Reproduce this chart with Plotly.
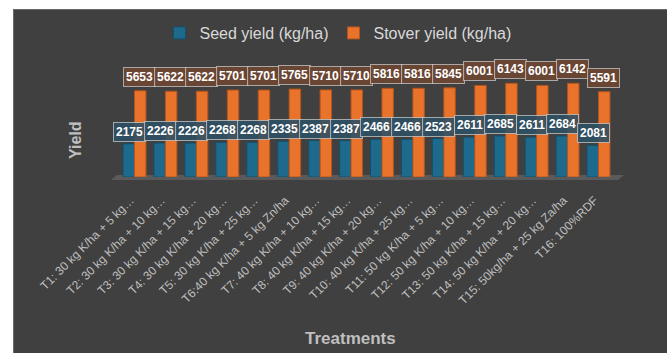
import plotly.graph_objects as go

categories = [
    "T1: 30 kg K/ha + 5 kg…", "T2: 30 kg K/ha + 10 kg…", "T3: 30 kg K/ha + 15 kg…",
    "T4: 30 kg K/ha + 20 kg…", "T5: 30 kg K/ha + 25 kg…", "T6:40 kg K/ha + 5 kg Zn/ha",
    "T7: 40 kg K/ha + 10 kg…", "T8: 40 kg K/ha + 15 kg…", "T9: 40 kg K/ha + 20 kg…",
    "T10: 40 kg K/ha + 25 kg…", "T11: 50 kg K/ha + 5 kg…", "T12: 50 kg K/ha + 10 kg…",
    "T13: 50 kg K/ha + 15 kg…", "T14: 50 kg K/ha + 20 kg…", "T15: 50kg/ha + 25 kg Za/ha",
    "T16: 100%RDF",
]
seed_yield = [2175, 2226, 2226, 2268, 2268, 2335, 2387, 2387, 2466, 2466, 2523, 2611, 2685, 2611, 2684, 2081]
stover_yield = [5653, 5622, 5622, 5701, 5701, 5765, 5710, 5710, 5816, 5816, 5845, 6001, 6143, 6001, 6142, 5591]

BLUE = "#1d6a8c"
ORANGE = "#e9732b"
BG = "#404040"
TXT = "#bfbfbf"

L, R, T, B = 113, 47, 55, 176
W, H = 667, 353
pw = W - L - R
ph = H - T - B

def px_x(p):
    return (p - L) / pw

def px_y(p):
    return (H - B - p) / ph

LABEL_FONT = dict(family="Liberation Sans Narrow, Arial Narrow, Liberation Sans", size=12,
                  color="white", weight="bold")

fig = go.Figure()
fig.add_trace(go.Bar(name="Seed yield (kg/ha)", x=categories, y=seed_yield,
                     marker=dict(color=BLUE, line=dict(color="#15506a", width=1))))
fig.add_trace(go.Bar(name="Stover yield (kg/ha)", x=categories, y=stover_yield,
                     marker=dict(color=ORANGE, line=dict(color="#b5541c", width=1))))

annotations = []
for c, v in zip(categories, seed_yield):
    annotations.append(dict(x=c, y=v, xref="x", yref="y", text=str(v), showarrow=False,
                            xshift=-5, yshift=12, font=LABEL_FONT,
                            bgcolor="rgba(45,80,100,0.9)", bordercolor="rgba(210,210,210,0.7)",
                            borderwidth=1, borderpad=2))
for c, v in zip(categories, stover_yield):
    annotations.append(dict(x=c, y=v, xref="x", yref="y", text=str(v), showarrow=False,
                            xshift=5, yshift=14, font=LABEL_FONT,
                            bgcolor="rgba(110,70,50,0.9)", bordercolor="rgba(210,210,210,0.7)",
                            borderwidth=1, borderpad=2))

annotations.append(dict(text="<b>Treatments</b>", xref="paper", yref="paper",
                        x=px_x(350), y=px_y(338), xanchor="center", yanchor="middle", showarrow=False,
                        font=dict(family="Liberation Sans Narrow, Liberation Sans", size=17, color=TXT)))
annotations.append(dict(text="<b>Yield</b>", xref="paper", yref="paper", textangle=-90,
                        x=px_x(75), y=px_y(140), xanchor="center", yanchor="middle", showarrow=False,
                        font=dict(family="Liberation Sans", size=16, color=TXT)))

shapes = [
    dict(type="rect", xref="paper", yref="paper", layer="below",
         x0=px_x(-5), x1=px_x(13), y0=px_y(380), y1=px_y(-5),
         fillcolor="white", line=dict(width=0)),
    dict(type="rect", xref="paper", yref="paper", layer="below",
         x0=px_x(-5), x1=px_x(700), y0=px_y(9), y1=px_y(-5),
         fillcolor="white", line=dict(width=0)),
    dict(type="path", xref="paper", yref="paper", layer="below",
         path=f"M {px_x(13.5)} {px_y(380)} L {px_x(13.5)} {px_y(9.5)} L {px_x(700)} {px_y(9.5)}",
         line=dict(color="#6a6a6a", width=1)),
    dict(type="path", xref="paper", yref="paper", layer="below",
         path=f"M {px_x(111)} {px_y(180)} L {px_x(618)} {px_y(180)} L {px_x(624)} {px_y(175)} L {px_x(117)} {px_y(175)} Z",
         fillcolor="#5a5a5a", line=dict(width=0)),
]

fig.update_layout(
    width=W, height=H,
    margin=dict(l=L, r=R, t=T, b=B, autoexpand=False),
    paper_bgcolor=BG, plot_bgcolor="rgba(0,0,0,0)",
    barmode="group", bargap=0.26, bargroupgap=0,
    font=dict(family="Liberation Sans, Arial", color=TXT),
    legend=dict(orientation="h", x=px_x(338), y=px_y(33), xanchor="center", yanchor="middle",
                font=dict(size=16, color="#d9d9d9"), bgcolor="rgba(0,0,0,0)",
                itemwidth=30, traceorder="normal"),
    annotations=annotations, shapes=shapes,
    xaxis=dict(tickangle=-45, tickfont=dict(size=12, color=TXT), showgrid=False,
               showline=False, ticks="", ticklabelshift=-4, ticklabelstandoff=13),
    yaxis=dict(range=[0, 8000], showgrid=False, showticklabels=False, zeroline=False,
               showline=False, ticks=""),
)

fig.write_html(
    "out.html",
    post_script=("document.documentElement.style.background='#404040';"
                 "document.body.style.background='#404040';"
                 "document.body.style.margin='0';"
                 "document.body.style.overflow='hidden';"),
)
